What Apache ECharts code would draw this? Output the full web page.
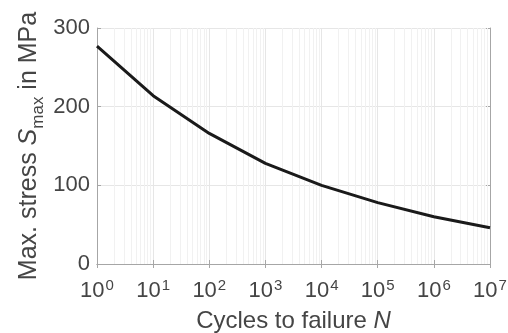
<!DOCTYPE html>
<html><head><meta charset="utf-8">
<script src="https://cdn.jsdelivr.net/npm/echarts@6/dist/echarts.min.js"></script>
<style>html,body{margin:0;padding:0;background:#fff}#c{width:508px;height:333px}</style>
</head><body><div id="c"></div>
<script>
var cycles = [1, 10, 100, 1000, 10000, 100000, 1000000, 10000000];
var stress = [277, 214, 166, 128, 100, 78, 60, 46];
var yTicks = [0, 100, 200, 300];
var minorMult = [2, 3, 4, 5, 6, 7, 8, 9];

var minorLines = [];
for (var d = 0; d < 7; d++) {
  for (var k = 0; k < minorMult.length; k++) {
    minorLines.push({ xAxis: minorMult[k] * Math.pow(10, d) });
  }
}
var FONT = 'Liberation Sans, Arial, sans-serif';
var TXT = '#454545';
var AX = '#a6a6a6';
var chart = echarts.init(document.getElementById('c'), null, { renderer: 'canvas' });
var xLabel = function (v) {
  var e = Math.round(Math.log10(v));
  return '{b|10}{s|' + e + '}';
};
var xRich = {
  b: { fontSize: 22, fontFamily: FONT, color: TXT, verticalAlign: 'top', lineHeight: 22, padding: [2, 0, 0, 0] },
  s: { fontSize: 15, fontFamily: FONT, color: TXT, verticalAlign: 'top', lineHeight: 15, padding: [0, 0, 0, 1] }
};
chart.setOption({
  animation: false,
  grid: { left: 97, right: 18, top: 28, bottom: 69, containLabel: false, outerBoundsMode: 'none' },
  xAxis: [{
    type: 'log', logBase: 10, min: 1, max: 1e7,
    name: '{n|Cycles to failure }{i|N}', nameLocation: 'middle', nameGap: 45, nameMoveOverlap: false,
    nameTextStyle: { rich: {
      n: { fontSize: 24, fontFamily: FONT, color: TXT },
      i: { fontSize: 24, fontFamily: FONT, color: TXT, fontStyle: 'italic' } } },
    axisLine: { show: true, lineStyle: { color: AX, width: 1 } },
    axisTick: { show: true, inside: true, length: 4, lineStyle: { color: AX } },
    axisLabel: { formatter: xLabel, rich: xRich, margin: 14 },
    splitLine: { show: true, lineStyle: { color: '#e6e6e6', width: 1 } }
  }, {
    type: 'log', logBase: 10, min: 1, max: 1e7, position: 'top',
    axisLine: { show: true, lineStyle: { color: AX, width: 1 } },
    axisTick: { show: true, inside: true, length: 4, lineStyle: { color: AX } },
    axisLabel: { show: false }, splitLine: { show: false }
  }],
  yAxis: [{
    type: 'value', min: 0, max: 300, interval: 100,
    name: '{n|Max. stress }{i|S}{sub|max}{n| in MPa}', nameLocation: 'middle', nameGap: 55, nameRotate: 90, nameMoveOverlap: false,
    nameTextStyle: { rich: {
      n: { fontSize: 25, fontFamily: FONT, color: TXT, verticalAlign: 'top', lineHeight: 25 },
      i: { fontSize: 25, fontFamily: FONT, color: TXT, fontStyle: 'italic', verticalAlign: 'top', lineHeight: 25 },
      sub: { fontSize: 17, fontFamily: FONT, color: TXT, verticalAlign: 'top', lineHeight: 17, padding: [13, 0, 0, 0] } } },
    axisLine: { show: true, lineStyle: { color: AX, width: 1 } },
    axisTick: { show: true, inside: true, length: 4, lineStyle: { color: AX } },
    axisLabel: { fontSize: 22, fontFamily: FONT, color: TXT, margin: 7,
      formatter: function (v) { return yTicks.indexOf(v) >= 0 ? String(v) : ''; } },
    splitLine: { show: true, lineStyle: { color: '#e6e6e6', width: 1 } }
  }, {
    type: 'value', min: 0, max: 300, interval: 100, position: 'right',
    axisLine: { show: true, lineStyle: { color: AX, width: 1 } },
    axisTick: { show: true, inside: true, length: 4, lineStyle: { color: AX } },
    axisLabel: { show: false }, splitLine: { show: false }
  }],
  series: [{
    type: 'line', xAxisIndex: 0, yAxisIndex: 0,
    data: cycles.map(function (c, i) { return [c, stress[i]]; }),
    showSymbol: false, symbol: 'none',
    lineStyle: { color: '#1a1a1a', width: 3 },
    z: 5,
    markLine: {
      silent: true, symbol: 'none', animation: false,
      label: { show: false },
      lineStyle: { color: '#f1f1f1', width: 1, type: 'solid' },
      data: minorLines, z: 1
    }
  }]
});
</script></body></html>
